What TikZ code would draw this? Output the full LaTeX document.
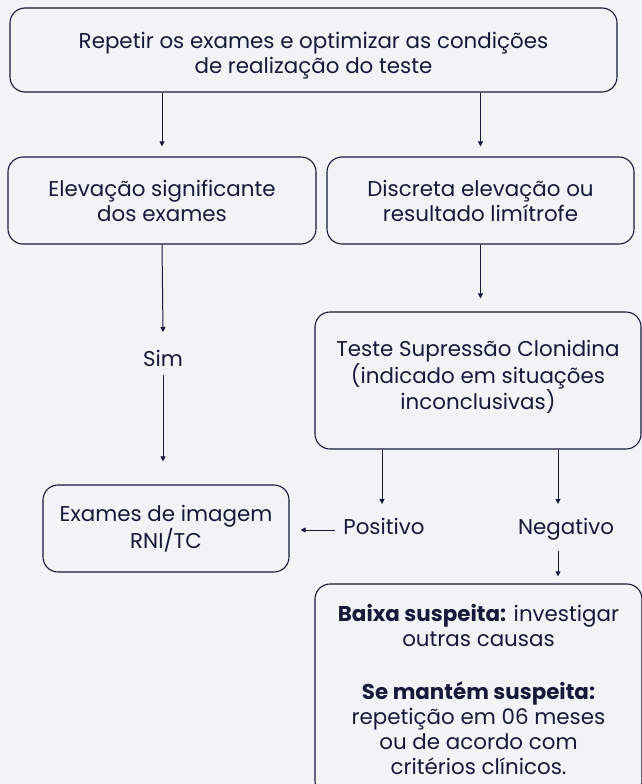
\documentclass[tikz,border=0pt]{standalone}
\usepackage{fontspec}
\setmainfont{Poppins}
\usetikzlibrary{arrows.meta,calc}
\definecolor{bg}{HTML}{F1F3F5}
\definecolor{ink}{HTML}{15193A}
\tikzset{
  box/.style={draw=ink, line width=1.1pt, rounded corners=15pt, align=center, text=ink, inner sep=0pt},
  lbl/.style={text=ink, inner sep=0pt, align=center},
  arr/.style={draw=ink, line width=1pt, -{Triangle[length=5pt,width=5pt]}}
}
\begin{document}
\begin{tikzpicture}[x=1pt, y=-1pt, font=\fontsize{21.4}{25}\selectfont]
\fill[bg] (0,0) rectangle (642,784);
\useasboundingbox (0,0) rectangle (642,784);
\clip (0,0) rectangle (642,784);

\node[box, minimum width=607pt, minimum height=84pt] (top) at (313.5,50) {};
\node[lbl] (toptext) at (313.5,56)
  {Repetir os exames e optimizar as condições\\de realização do teste};
\node[box, minimum width=308pt, minimum height=87pt] (elev) at (162,200.5)
  {Elevação significante\\dos exames};
\node[box, minimum width=307pt, minimum height=87pt] (disc) at (480.5,200.5)
  {Discreta elevação ou\\resultado limítrofe};
\node[lbl] (sim) at (163,358) {Sim};
\node[box, minimum width=326pt, minimum height=137pt] (teste) at (478,380.5) {};
\node[lbl] (testetext) at (478,377)
  {Teste Supressão Clonidina\\(indicado em situações\\inconclusivas)};
\node[box, minimum width=246pt, minimum height=87pt] (exam) at (166,528.5)
  {Exames de imagem\\RNI/TC};
\node[lbl, anchor=base] (pos) at (384,534) {Positivo};
\node[lbl, anchor=base] (neg) at (566,534) {Negativo};
\node[box, minimum width=327pt, minimum height=212pt] (low) at (478.5,690)
  {\textbf{Baixa suspeita:} investigar\\outras causas\\[28pt]\textbf{Se mantém suspeita:}\\repetição em 06 meses\\ou de acordo com\\critérios clínicos.};

\coordinate (posx) at (382,0);
\coordinate (negx) at (558,0);

\draw[arr, shorten >=10pt] (top.south -| elev.north) -- (elev.north);
\draw[arr, shorten >=10pt] (top.south -| disc.north) -- (disc.north);
\draw[arr] (elev.south) -- ($(sim.center)+(0,-26)$);
\draw[arr] ($(sim.center)+(0,17)$) -- ($(sim |- exam.north)+(0,-23)$);
\draw[arr] (disc.south) -- ($(disc.south |- teste.north)+(0,-13)$);
\draw[arr] (teste.south -| posx) -- ($(posx |- pos.base)+(0,-30)$);
\draw[arr] (teste.south -| negx) -- ($(negx |- neg.base)+(0,-30)$);
\draw[arr] ($(negx |- neg.base)+(0,17)$) -- ($(negx |- low.north)+(0,-7)$);
\draw[arr] ($(pos.base west)+(-8,-4)$) -- ($(exam.east |- pos.base west)+(11,-4)$);
\end{tikzpicture}
\end{document}
